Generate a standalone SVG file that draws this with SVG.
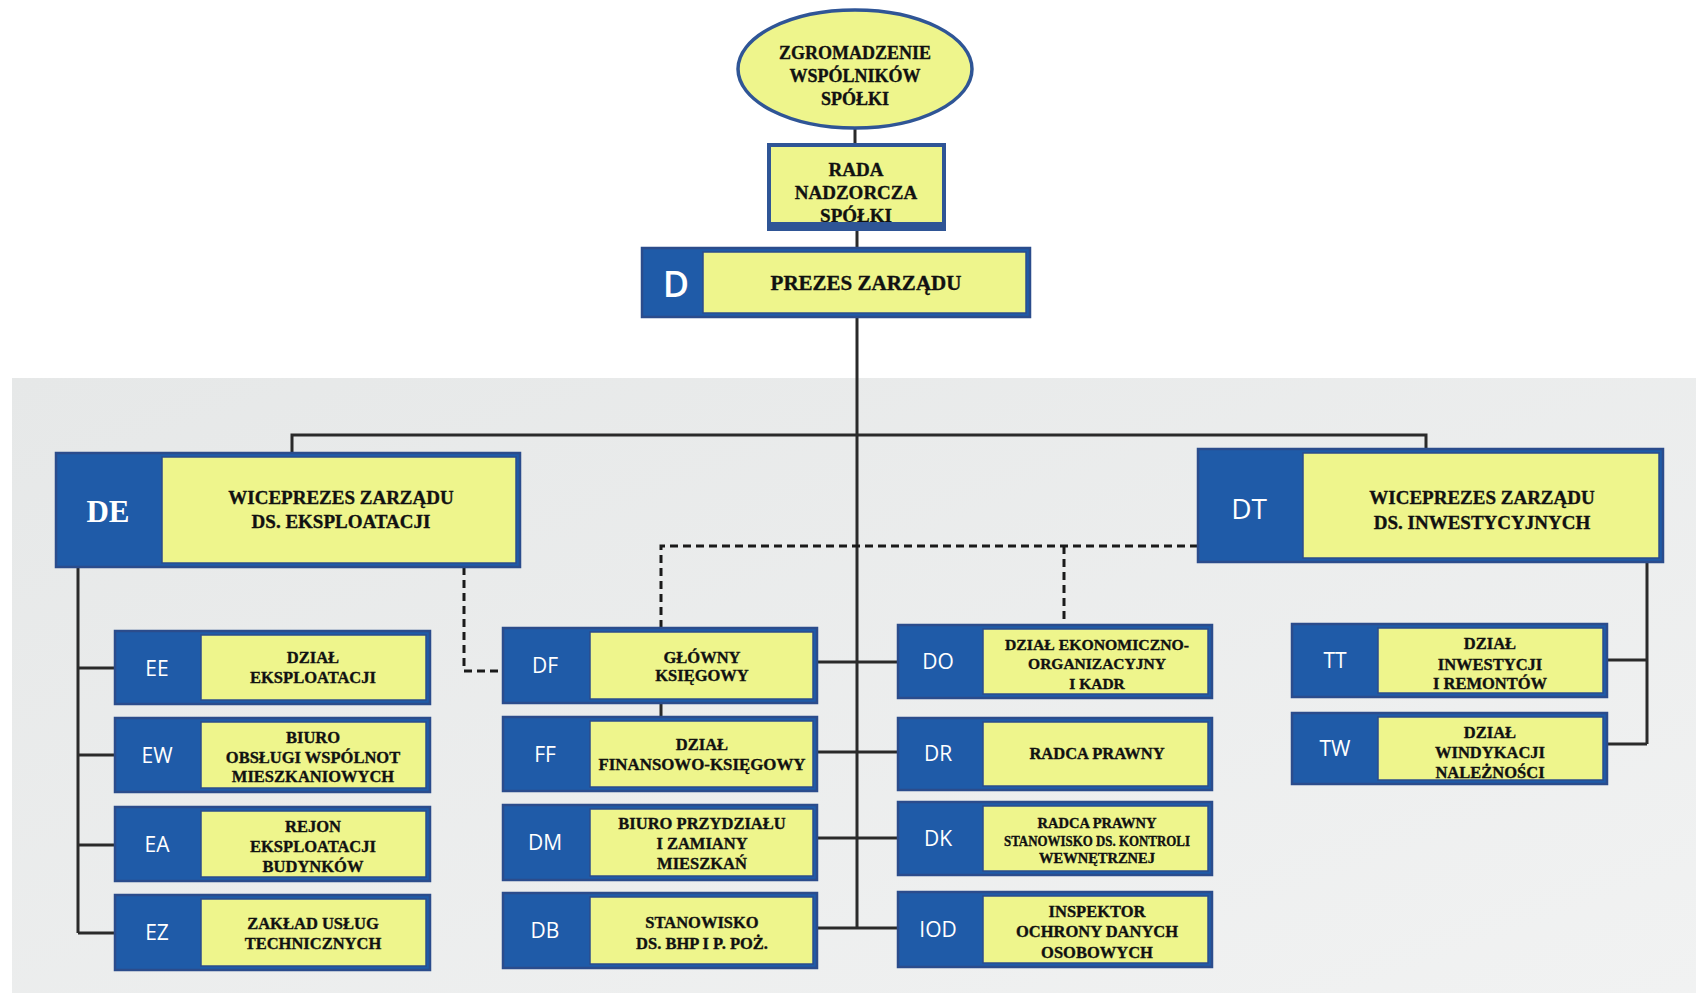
<svg xmlns="http://www.w3.org/2000/svg" width="1696" height="993" viewBox="0 0 1696 993">
<defs>
<linearGradient id="bg" x1="0" y1="0" x2="1" y2="1">
<stop offset="0" stop-color="#e6e8e8"/>
<stop offset="1" stop-color="#f1f2f2"/>
</linearGradient>
</defs>
<style>
.blue{fill:#1f5ba8;stroke:#2b4c8c;stroke-width:2.5}
.yel{fill:#eef58c;stroke:#2b4c8c;stroke-width:1.5}
.t{font-family:"Liberation Serif","Times New Roman",serif;font-weight:bold;font-size:16.5px;fill:#111;stroke:#111;stroke-width:0.35;text-anchor:middle}
.lb{font-family:"Open Sans","Noto Sans",sans-serif;font-size:21px;fill:#fff;text-anchor:middle}
.ln{fill:none;stroke:#2a2a2a;stroke-width:3}
.ds{fill:none;stroke:#1a1a1a;stroke-width:3;stroke-dasharray:8 5}
</style>
<rect x="0" y="0" width="1696" height="993" fill="#ffffff"/>
<rect x="12" y="378" width="1684" height="615" fill="url(#bg)"/>

<g id="connectors">
<path class="ln" d="M855 128V144M857 231V247M857 317V929"/>
<path class="ln" d="M292 453V435H1426V449"/>
<path class="ln" d="M78 567V933M78 668H115M78 755H115M78 845H115M78 933H115"/>
<path class="ln" d="M1647 562V744M1607 660H1647M1607 744H1647"/>
<path class="ln" d="M817 662H898M817 752H898M817 838H898M817 928H898"/>
<path class="ln" d="M661 703V717"/>
<path class="ds" d="M464 567V671H503"/>
<path class="ds" d="M1198 546H661V628M1064 546V625"/>
</g>

<g id="zgromadzenie">
<ellipse cx="855" cy="69" rx="117" ry="59" fill="#eef58c" stroke="#2f5596" stroke-width="3.5"/>
<text class="t" style="font-size:18px" x="855" y="59">ZGROMADZENIE</text>
<text class="t" style="font-size:18px" x="855" y="82">WSPÓLNIKÓW</text>
<text class="t" style="font-size:18px" x="855" y="105">SPÓŁKI</text>
</g>

<g id="rada">
<rect x="769" y="145" width="175" height="84" fill="#eef58c" stroke="#2f5596" stroke-width="4"/>
<text class="t" style="font-size:19px" x="856" y="176">RADA</text>
<text class="t" style="font-size:19px" x="856" y="199">NADZORCZA</text>
<text class="t" style="font-size:19px" x="856" y="222">SPÓŁKI</text>
<rect x="767" y="222" width="179" height="9" fill="#2f5596"/>
</g>

<g id="D">
<rect class="blue" x="642" y="248" width="388" height="69"/>
<rect class="yel" x="703" y="252" width="323" height="61"/>
<text class="lb" style="font-size:36px;font-weight:600" x="676" y="297">D</text>
<text class="t" style="font-size:21px" x="866" y="290">PREZES ZARZĄDU</text>
</g>

<g id="DE">
<rect class="blue" x="56" y="453" width="464" height="114"/>
<rect class="yel" x="162" y="457" width="354" height="106"/>
<text x="108" y="522" style="font-family:'Liberation Serif',serif;font-weight:bold;font-size:31px;fill:#fff;text-anchor:middle">DE</text>
<text class="t" style="font-size:19px" x="341" y="504">WICEPREZES ZARZĄDU</text>
<text class="t" style="font-size:19px" x="341" y="528">DS. EKSPLOATACJI</text>
</g>

<g id="DT">
<rect class="blue" x="1198" y="449" width="465" height="113"/>
<rect class="yel" x="1303" y="453" width="356" height="105"/>
<text class="lb" style="font-size:28px" x="1249" y="519">DT</text>
<text class="t" style="font-size:19px" x="1482" y="504">WICEPREZES ZARZĄDU</text>
<text class="t" style="font-size:19px" x="1482" y="529">DS. INWESTYCYJNYCH</text>
</g>

<g id="EE">
<rect class="blue" x="115" y="631" width="315" height="73"/>
<rect class="yel" x="201" y="635" width="225" height="65"/>
<text class="lb" x="157" y="676">EE</text>
<text class="t" x="313" y="663">DZIAŁ</text>
<text class="t" x="313" y="683">EKSPLOATACJI</text>
</g>
<g id="EW">
<rect class="blue" x="115" y="718" width="315" height="74"/>
<rect class="yel" x="201" y="722" width="225" height="66"/>
<text class="lb" x="157" y="763">EW</text>
<text class="t" x="313" y="743">BIURO</text>
<text class="t" x="313" y="763">OBSŁUGI WSPÓLNOT</text>
<text class="t" x="313" y="782">MIESZKANIOWYCH</text>
</g>
<g id="EA">
<rect class="blue" x="115" y="807" width="315" height="74"/>
<rect class="yel" x="201" y="811" width="225" height="66"/>
<text class="lb" x="157" y="852">EA</text>
<text class="t" x="313" y="832">REJON</text>
<text class="t" x="313" y="852">EKSPLOATACJI</text>
<text class="t" x="313" y="872">BUDYNKÓW</text>
</g>
<g id="EZ">
<rect class="blue" x="115" y="895" width="315" height="75"/>
<rect class="yel" x="201" y="899" width="225" height="67"/>
<text class="lb" x="157" y="940">EZ</text>
<text class="t" x="313" y="929">ZAKŁAD USŁUG</text>
<text class="t" x="313" y="949">TECHNICZNYCH</text>
</g>

<g id="DF">
<rect class="blue" x="503" y="628" width="314" height="75"/>
<rect class="yel" x="590" y="632" width="223" height="67"/>
<text class="lb" x="545" y="673">DF</text>
<text class="t" x="702" y="663">GŁÓWNY</text>
<text class="t" x="702" y="681">KSIĘGOWY</text>
</g>
<g id="FF">
<rect class="blue" x="503" y="717" width="314" height="74"/>
<rect class="yel" x="590" y="721" width="223" height="66"/>
<text class="lb" x="545" y="762">FF</text>
<text class="t" x="702" y="750">DZIAŁ</text>
<text class="t" x="702" y="770" textLength="207" lengthAdjust="spacingAndGlyphs">FINANSOWO-KSIĘGOWY</text>
</g>
<g id="DM">
<rect class="blue" x="503" y="805" width="314" height="75"/>
<rect class="yel" x="590" y="809" width="223" height="67"/>
<text class="lb" x="545" y="850">DM</text>
<text class="t" x="702" y="829">BIURO PRZYDZIAŁU</text>
<text class="t" x="702" y="849">I ZAMIANY</text>
<text class="t" x="702" y="869">MIESZKAŃ</text>
</g>
<g id="DB">
<rect class="blue" x="503" y="893" width="314" height="75"/>
<rect class="yel" x="590" y="897" width="223" height="67"/>
<text class="lb" x="545" y="938">DB</text>
<text class="t" x="702" y="928">STANOWISKO</text>
<text class="t" x="702" y="949">DS. BHP I P. POŻ.</text>
</g>

<g id="DO">
<rect class="blue" x="898" y="625" width="314" height="73"/>
<rect class="yel" x="983" y="629" width="225" height="65"/>
<text class="lb" x="938" y="669">DO</text>
<text class="t" style="font-size:15.5px" x="1097" y="650" textLength="184" lengthAdjust="spacingAndGlyphs">DZIAŁ EKONOMICZNO-</text>
<text class="t" style="font-size:15.5px" x="1097" y="669">ORGANIZACYJNY</text>
<text class="t" style="font-size:15.5px" x="1097" y="689">I KADR</text>
</g>
<g id="DR">
<rect class="blue" x="898" y="718" width="314" height="72"/>
<rect class="yel" x="983" y="722" width="225" height="64"/>
<text class="lb" x="938" y="761">DR</text>
<text class="t" x="1097" y="759">RADCA PRAWNY</text>
</g>
<g id="DK">
<rect class="blue" x="898" y="802" width="314" height="73"/>
<rect class="yel" x="983" y="806" width="225" height="65"/>
<text class="lb" x="938" y="846">DK</text>
<text class="t" style="font-size:14.5px" x="1097" y="828">RADCA PRAWNY</text>
<text class="t" style="font-size:14.5px" x="1097" y="846" textLength="186" lengthAdjust="spacingAndGlyphs">STANOWISKO DS. KONTROLI</text>
<text class="t" style="font-size:14.5px" x="1097" y="863">WEWNĘTRZNEJ</text>
</g>
<g id="IOD">
<rect class="blue" x="898" y="892" width="314" height="75"/>
<rect class="yel" x="983" y="896" width="225" height="67"/>
<text class="lb" x="938" y="937">IOD</text>
<text class="t" x="1097" y="917">INSPEKTOR</text>
<text class="t" x="1097" y="937">OCHRONY DANYCH</text>
<text class="t" x="1097" y="958">OSOBOWYCH</text>
</g>

<g id="TT">
<rect class="blue" x="1292" y="624" width="315" height="73"/>
<rect class="yel" x="1378" y="628" width="225" height="65"/>
<text class="lb" x="1335" y="668">TT</text>
<text class="t" x="1490" y="649">DZIAŁ</text>
<text class="t" x="1490" y="670">INWESTYCJI</text>
<text class="t" x="1490" y="689">I REMONTÓW</text>
</g>
<g id="TW">
<rect class="blue" x="1292" y="713" width="315" height="71"/>
<rect class="yel" x="1378" y="717" width="225" height="63"/>
<text class="lb" x="1335" y="756">TW</text>
<text class="t" x="1490" y="738">DZIAŁ</text>
<text class="t" x="1490" y="758">WINDYKACJI</text>
<text class="t" x="1490" y="778">NALEŻNOŚCI</text>
</g>
</svg>
